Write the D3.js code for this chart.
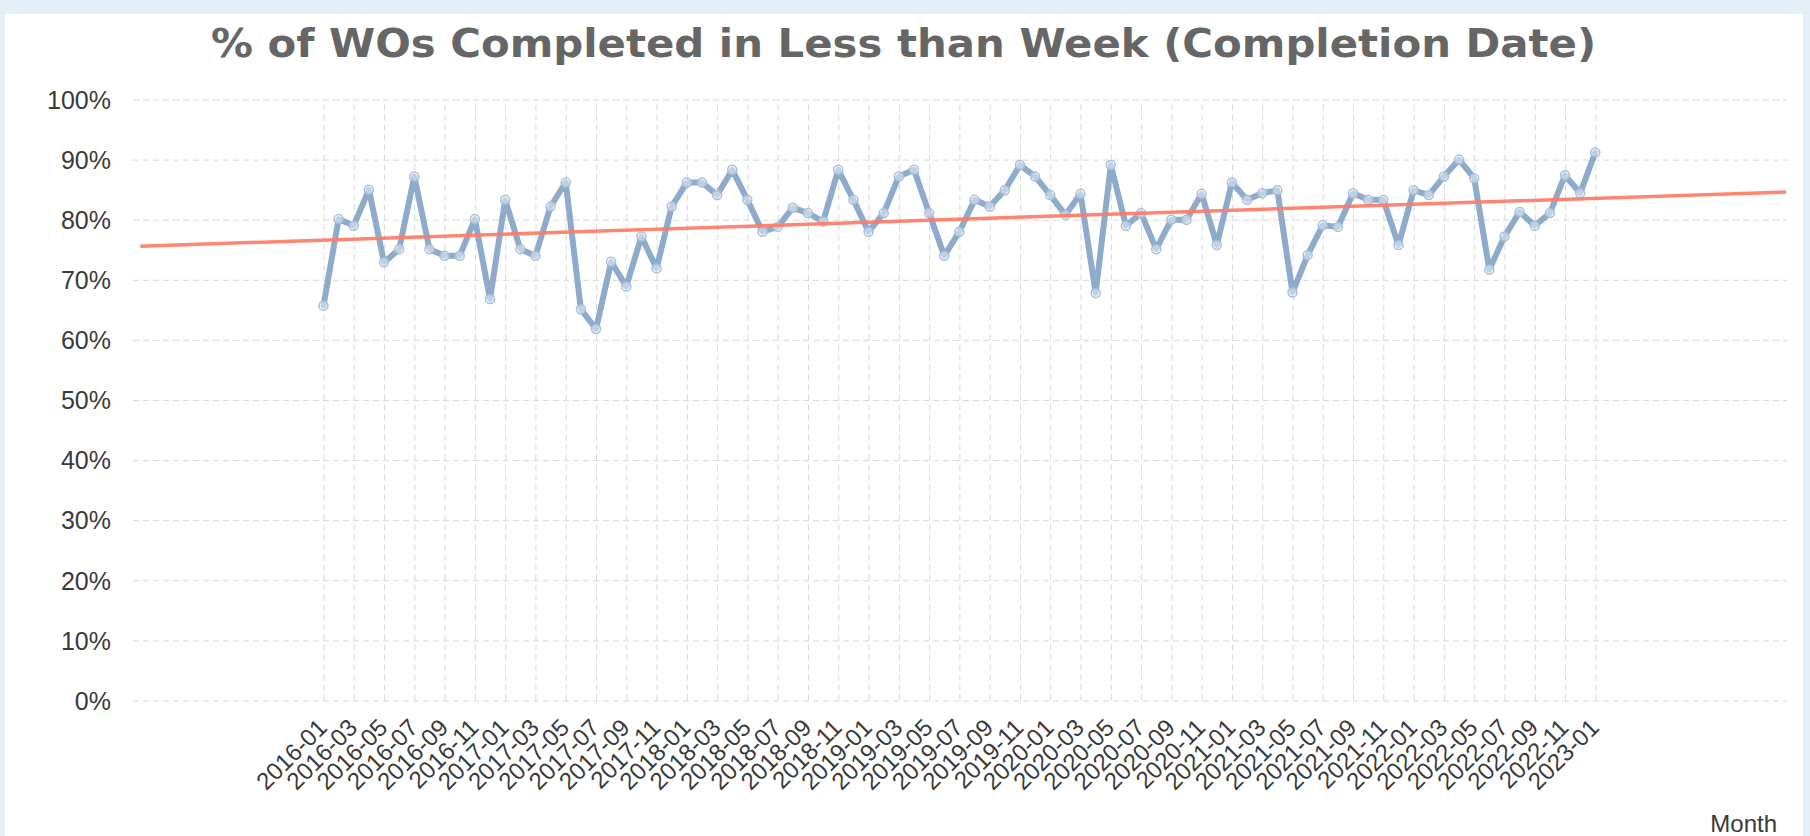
<!DOCTYPE html>
<html><head><meta charset="utf-8">
<script src="https://cdn.jsdelivr.net/npm/d3@7"></script>
<style>
html,body{margin:0;padding:0;background:#e3eef6;}
svg{display:block;}
</style></head><body>
<svg id="chart" width="1810" height="836"></svg>
<script>
// ---- data ----
const months = [
  "2016-01","2016-02","2016-03","2016-04","2016-05","2016-06","2016-07","2016-08","2016-09","2016-10","2016-11","2016-12",
  "2017-01","2017-02","2017-03","2017-04","2017-05","2017-06","2017-07","2017-08","2017-09","2017-10","2017-11","2017-12",
  "2018-01","2018-02","2018-03","2018-04","2018-05","2018-06","2018-07","2018-08","2018-09","2018-10","2018-11","2018-12",
  "2019-01","2019-02","2019-03","2019-04","2019-05","2019-06","2019-07","2019-08","2019-09","2019-10","2019-11","2019-12",
  "2020-01","2020-02","2020-03","2020-04","2020-05","2020-06","2020-07","2020-08","2020-09","2020-10","2020-11","2020-12",
  "2021-01","2021-02","2021-03","2021-04","2021-05","2021-06","2021-07","2021-08","2021-09","2021-10","2021-11","2021-12",
  "2022-01","2022-02","2022-03","2022-04","2022-05","2022-06","2022-07","2022-08","2022-09","2022-10","2022-11","2022-12",
  "2023-01"
];
const pctCompleted = [
  65.7, 80.1, 79.0, 85.0, 72.9, 75.1, 87.2, 75.1, 74.0, 74.0, 80.1, 66.8,
  83.3, 75.1, 74.0, 82.2, 86.2, 65.1, 61.8, 73.0, 68.9, 77.2, 71.9, 82.2,
  86.2, 86.2, 84.1, 88.3, 83.3, 78.0, 78.8, 82.0, 81.1, 79.7, 88.3, 83.3,
  78.0, 81.1, 87.2, 88.3, 81.1, 74.0, 78.0, 83.3, 82.2, 84.9, 89.1, 87.2,
  84.1, 80.8, 84.3, 67.8, 89.1, 79.0, 81.1, 75.1, 80.0, 80.0, 84.3, 75.8,
  86.2, 83.3, 84.4, 84.9, 67.9, 74.1, 79.1, 78.8, 84.4, 83.3, 83.3, 75.8,
  84.9, 84.1, 87.2, 90.0, 86.9, 71.7, 77.2, 81.3, 79.0, 81.1, 87.4, 84.4,
  91.2
];
// trend line end points (month offset from 2016-01, value %)
const trendMonthOffsets = [-12.1, 96.6];
const trendValues = [75.6, 84.6];
const xTickLabels = [
  "2016-01","2016-03","2016-05","2016-07","2016-09","2016-11",
  "2017-01","2017-03","2017-05","2017-07","2017-09","2017-11",
  "2018-01","2018-03","2018-05","2018-07","2018-09","2018-11",
  "2019-01","2019-03","2019-05","2019-07","2019-09","2019-11",
  "2020-01","2020-03","2020-05","2020-07","2020-09","2020-11",
  "2021-01","2021-03","2021-05","2021-07","2021-09","2021-11",
  "2022-01","2022-03","2022-05","2022-07","2022-09","2022-11",
  "2023-01"
];
const yTicks = [0,10,20,30,40,50,60,70,80,90,100];
const titleText = "% of WOs Completed in Less than Week (Completion Date)";
const xAxisTitle = "Month";

// ---- layout ----
const L = 133, R = 1787, T = 99.5, B = 700.5;
const svg = d3.select("#chart");
svg.append("rect").attr("x",5).attr("y",14).attr("width",1798).attr("height",822).attr("fill","#ffffff");

const x = d3.scaleLinear().domain([-12.58, 96.66]).range([L, R]);
const y = d3.scaleLinear().domain([0, 100]).range([B, T]);

// y axis + horizontal grid
const gy = svg.append("g").attr("transform", `translate(${L},0)`)
  .call(d3.axisLeft(y).tickValues(yTicks).tickSize(-(R - L)).tickPadding(22).tickFormat(d => d + "%"));
gy.select(".domain").remove();
gy.selectAll(".tick line").attr("stroke", "#d8d8d8").attr("stroke-width", 1).attr("stroke-dasharray", "6,4");
gy.selectAll(".tick text").attr("font-family", "'Liberation Sans', Arial, sans-serif").attr("font-size", 25)
  .attr("fill", "#3a3a3a").attr("dy", "0.35em");

// x axis + vertical grid
const tickIdx = xTickLabels.map(m => months.indexOf(m));
const gx = svg.append("g").attr("transform", `translate(0,${B})`)
  .call(d3.axisBottom(x).tickValues(tickIdx).tickSize(-(B - T)).tickFormat(i => months[i]));
gx.select(".domain").remove();
gx.selectAll(".tick line").attr("stroke", "#d8d8d8").attr("stroke-width", 1).attr("stroke-dasharray", "6,4");
gx.selectAll(".tick text")
  .attr("font-family", "'Liberation Sans', Arial, sans-serif").attr("font-size", 24).attr("fill", "#3a3a3a")
  .attr("text-anchor", "end").attr("x", 0).attr("y", 0).attr("dy", 0)
  .attr("transform", "translate(4.5,28.5) rotate(-45)");

// series line
const line = d3.line().x((d, i) => x(i)).y(d => y(d));
svg.append("path").datum(pctCompleted)
  .attr("d", line).attr("fill", "none").attr("stroke", "#8eabcc").attr("stroke-width", 6)
  .attr("stroke-linejoin", "round").attr("stroke-linecap", "round");

svg.append("g").selectAll("circle").data(pctCompleted).join("circle")
  .attr("cx", (d, i) => x(i)).attr("cy", d => y(d)).attr("r", 4.5)
  .attr("fill", "#ffffff").attr("fill-opacity", 0.45)
  .attr("stroke", "#a8bed9").attr("stroke-width", 1.5);

// trend line
const trendData = trendMonthOffsets.map((m, i) => ({m, v: trendValues[i]}));
svg.append("path").datum(trendData)
  .attr("d", d3.line().x(d => x(d.m)).y(d => y(d.v)))
  .attr("fill", "none").attr("stroke", "#ff7966").attr("stroke-width", 3.5).attr("stroke-opacity", 0.92);

// title
svg.append("text").attr("x", 903.5).attr("y", 57).attr("text-anchor", "middle")
  .attr("font-family", "'DejaVu Sans', Verdana, sans-serif").attr("font-weight", "bold").attr("font-size", 39)
  .attr("fill", "#666666").attr("textLength", 1385).attr("lengthAdjust", "spacingAndGlyphs")
  .text(titleText);

// x axis title
svg.append("text").attr("x", 1777).attr("y", 832).attr("text-anchor", "end")
  .attr("font-family", "'Liberation Sans', Arial, sans-serif").attr("font-size", 24).attr("fill", "#3a3a3a")
  .text(xAxisTitle);
</script>
</body></html>
